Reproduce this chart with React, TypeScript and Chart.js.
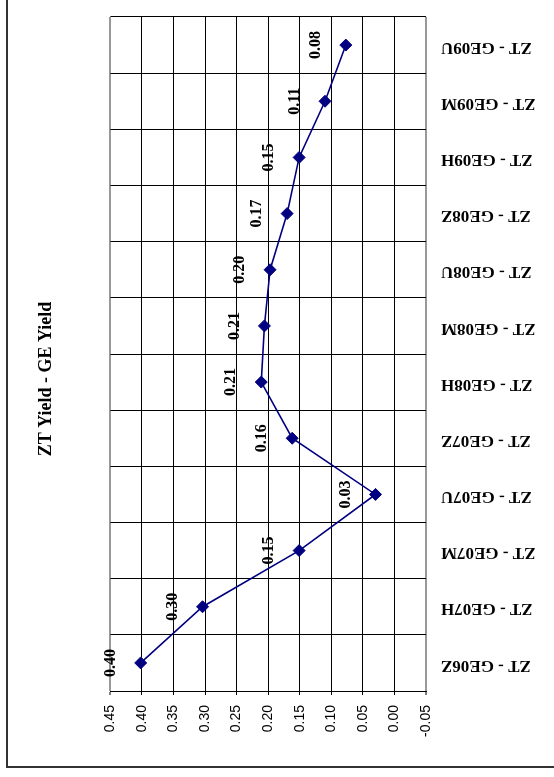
import React, { useEffect, useRef } from 'react';
import { Chart, registerables } from 'chart.js';

Chart.register(...registerables);

const categories = [
  'ZT - GE06Z', 'ZT - GE07H', 'ZT - GE07M', 'ZT - GE07U', 'ZT - GE07Z', 'ZT - GE08H',
  'ZT - GE08M', 'ZT - GE08U', 'ZT - GE08Z', 'ZT - GE09H', 'ZT - GE09M', 'ZT - GE09U',
];
const spreadValues = [0.402, 0.304, 0.151, 0.03, 0.162, 0.211, 0.206, 0.197, 0.17, 0.151, 0.11, 0.077];
const valueLabels = ['0.40', '0.30', '0.15', '0.03', '0.16', '0.21', '0.21', '0.20', '0.17', '0.15', '0.11', '0.08'];
const titleText = 'ZT Yield - GE Yield';
const axisMin = -0.05;
const axisMax = 0.45;
const axisStep = 0.05;

const SERIF = '"Liberation Serif", "Times New Roman", serif';
const SANS = '"Liberation Sans", Arial, sans-serif';
const GREY = '#999999';
const NAVY = '#000080';

const valueLabelPlugin = {
  id: 'valueLabelPlugin',
  afterDatasetsDraw(chart: any) {
    const ctx = chart.ctx;
    const meta = chart.getDatasetMeta(0);
    ctx.save();
    ctx.font = `bold 16px ${SERIF}`;
    ctx.fillStyle = '#000';
    ctx.textAlign = 'center';
    ctx.textBaseline = 'middle';
    meta.data.forEach((pt: any, i: number) => {
      ctx.save();
      ctx.translate(pt.x - 30, pt.y);
      ctx.rotate(-Math.PI / 2);
      ctx.fillText(valueLabels[i], 0, 0);
      ctx.restore();
    });
    ctx.restore();
  },
};

const categoryLabelPlugin = {
  id: 'categoryLabelPlugin',
  afterDraw(chart: any) {
    const ctx = chart.ctx;
    const scale = chart.scales.y;
    const x = chart.chartArea.right + 15;
    ctx.save();
    ctx.font = `bold 17px ${SERIF}`;
    ctx.fillStyle = '#000';
    ctx.textAlign = 'right';
    ctx.textBaseline = 'middle';
    scale.ticks.forEach((t: any, i: number) => {
      const y = scale.getPixelForTick(i);
      ctx.save();
      ctx.translate(x, y + 2);
      ctx.rotate(Math.PI);
      ctx.fillText(scale.getLabelForValue(t.value), 0, 0);
      ctx.restore();
    });
    ctx.restore();
  },
};

export default function App() {
  const canvasRef = useRef<HTMLCanvasElement | null>(null);

  useEffect(() => {
    if (!canvasRef.current) return;
    const isEdge = (v: number) => Math.abs(v - axisMax) < 1e-9 || Math.abs(v - axisMin) < 1e-9;
    const chart = new Chart(canvasRef.current, {
      type: 'line',
      data: {
        labels: categories,
        datasets: [
          {
            data: spreadValues,
            borderColor: NAVY,
            backgroundColor: NAVY,
            borderWidth: 1.6,
            pointStyle: 'rectRot',
            pointRadius: 6,
            pointBackgroundColor: NAVY,
            pointBorderColor: NAVY,
            pointBorderWidth: 1,
            tension: 0,
            fill: false,
          },
        ],
      },
      plugins: [valueLabelPlugin, categoryLabelPlugin],
      options: {
        indexAxis: 'y',
        animation: false,
        responsive: false,
        maintainAspectRatio: false,
        devicePixelRatio: 1,
        layout: { padding: { top: 17, bottom: 36, left: 0, right: 128 } },
        plugins: {
          legend: { display: false },
          tooltip: { enabled: false },
          title: {
            display: true,
            text: titleText,
            position: 'left',
            color: '#000',
            font: { family: SERIF, size: 18, weight: 'bold' },
            padding: { top: 35.7, bottom: 53.1 },
          },
        },
        scales: {
          x: {
            type: 'linear',
            position: 'bottom',
            reverse: true,
            min: axisMin,
            max: axisMax,
            afterFit: (scale: any) => {
              scale.height = 50;
            },
            ticks: {
              stepSize: axisStep,
              autoSkip: false,
              minRotation: 90,
              maxRotation: 90,
              padding: 10,
              color: '#000',
              font: { family: SANS, size: 14 },
              callback: (v: any) => Number(v).toFixed(2),
            },
            grid: {
              color: (c: any) => (c.tick && isEdge(c.tick.value) ? GREY : '#000'),
              lineWidth: (c: any) => (c.tick && isEdge(c.tick.value) ? 2 : 1),
              tickLength: 4,
              tickColor: '#000',
              tickWidth: 1,
            },
            border: { display: true, color: '#000', width: 1 },
          },
          y: {
            type: 'category',
            position: 'right',
            reverse: true,
            offset: true,
            afterFit: (scale: any) => {
              scale.width = 0;
            },
            ticks: { display: false },
            grid: {
              offset: true,
              drawTicks: false,
              color: (c: any) => (c.index === categories.length ? GREY : '#000'),
              lineWidth: (c: any) => (c.index === categories.length ? 2 : 1),
            },
            border: { display: false },
          },
        },
      },
    } as any);
    return () => chart.destroy();
  }, []);

  return (
    <div style={{ position: 'fixed', left: 0, top: 0, width: 554, height: 777, background: '#fff', overflow: 'hidden' }}>
      <canvas ref={canvasRef} width={554} height={777} style={{ position: 'absolute', left: 0, top: 0, width: 554, height: 777 }} />
      <div
        style={{
          position: 'absolute',
          left: 6,
          top: -10,
          width: 640,
          height: 778,
          border: '2px solid #333',
          boxSizing: 'border-box',
          pointerEvents: 'none',
        }}
      />
    </div>
  );
}
